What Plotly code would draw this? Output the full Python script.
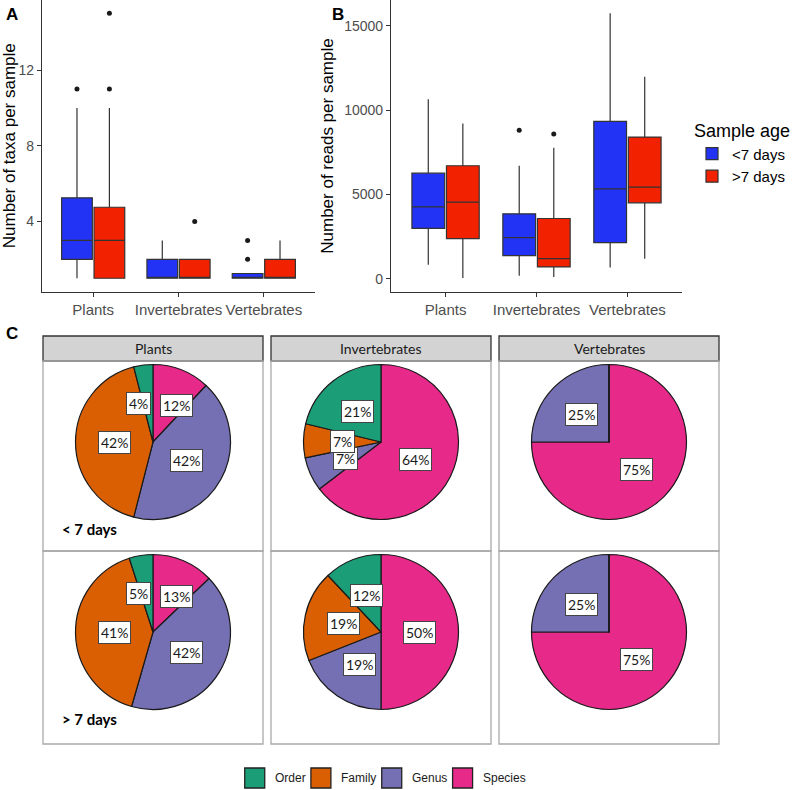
import math
import plotly.graph_objects as go

# ---------------- data ----------------
categories = ["Plants", "Invertebrates", "Vertebrates"]
age_groups = ["<7 days", ">7 days"]
age_colors = ["#2233f6", "#f22200"]

# Panel A: number of taxa per sample (box summary stats)
taxa_lt7_low = [1, 1, 1]
taxa_lt7_q1 = [2, 1, 1]
taxa_lt7_med = [3, 1, 1]
taxa_lt7_q3 = [5.25, 2, 1.25]
taxa_lt7_high = [10, 3, 1]
taxa_lt7_out = [[11], [], [2, 3]]
taxa_gt7_low = [1, 1, 1]
taxa_gt7_q1 = [1, 1, 1]
taxa_gt7_med = [3, 1, 1]
taxa_gt7_q3 = [4.75, 2, 2]
taxa_gt7_high = [10, 2, 3]
taxa_gt7_out = [[11, 15], [4], []]
taxa_ticks = [4, 8, 12]

# Panel B: number of reads per sample
reads_lt7_low = [830, 180, 670]
reads_lt7_q1 = [2990, 1370, 2140]
reads_lt7_med = [4260, 2440, 5330]
reads_lt7_q3 = [6260, 3850, 9330]
reads_lt7_high = [10640, 6700, 15740]
reads_lt7_out = [[], [8800], []]
reads_gt7_low = [40, 100, 1190]
reads_gt7_q1 = [2380, 700, 4500]
reads_gt7_med = [4540, 1190, 5430]
reads_gt7_q3 = [6700, 3570, 8400]
reads_gt7_high = [9200, 7770, 11970]
reads_gt7_out = [[], [8580], []]
reads_ticks = [0, 5000, 10000, 15000]

# Panel C: taxonomic rank percentages (order: Order, Family, Genus, Species)
ranks = ["Order", "Family", "Genus", "Species"]
rank_colors = ["#1B9E77", "#D95F02", "#7570B3", "#E7298A"]
pct_plants_lt7 = [4, 42, 42, 12]
pct_plants_gt7 = [5, 41, 42, 13]
pct_inv_lt7 = [21, 7, 7, 64]
pct_inv_gt7 = [12, 19, 19, 50]
pct_vert_lt7 = [0, 0, 25, 75]
pct_vert_gt7 = [0, 0, 25, 75]
row_labels = ["< 7 days", "> 7 days"]

# ---------------- layout constants ----------------
W, H = 798, 790
def px(x):
    return x / W
def py(y):
    return 1 - y / H

BOX_OFF = 0.19
BOX_W = 0.36
TICK_COL = "#4d4d4d"
LINE_COL = "#333333"
SANS = "Liberation Sans, Arial, sans-serif"
HUM = "Lato, Open Sans, sans-serif"

fig = go.Figure()

def add_boxes(xa, ya, stats, outs, showlegend):
    for g, (name, col) in enumerate(zip(age_groups, age_colors)):
        low, q1, med, q3, high = stats[g]
        off = -BOX_OFF if g == 0 else BOX_OFF
        xs = [i + 1 + off for i in range(len(categories))]
        fig.add_trace(go.Box(
            x=xs, lowerfence=low, q1=q1, median=med, q3=q3, upperfence=high,
            name=name, fillcolor=col, line=dict(color=LINE_COL, width=1.2),
            width=BOX_W, whiskerwidth=0, boxpoints=False,
            xaxis=xa, yaxis=ya, showlegend=showlegend, legendgroup=name,
            hoverinfo="skip"))
        ox, oy = [], []
        for i, vals in enumerate(outs[g]):
            for v in vals:
                ox.append(i + 1 + off)
                oy.append(v)
        fig.add_trace(go.Scatter(
            x=ox, y=oy, mode="markers", marker=dict(color="#1a1a1a", size=5),
            xaxis=xa, yaxis=ya, showlegend=False, hoverinfo="skip"))

add_boxes("x", "y",
          [(taxa_lt7_low, taxa_lt7_q1, taxa_lt7_med, taxa_lt7_q3, taxa_lt7_high),
           (taxa_gt7_low, taxa_gt7_q1, taxa_gt7_med, taxa_gt7_q3, taxa_gt7_high)],
          [taxa_lt7_out, taxa_gt7_out], True)
add_boxes("x2", "y2",
          [(reads_lt7_low, reads_lt7_q1, reads_lt7_med, reads_lt7_q3, reads_lt7_high),
           (reads_gt7_low, reads_gt7_q1, reads_gt7_med, reads_gt7_q3, reads_gt7_high)],
          [reads_lt7_out, reads_gt7_out], False)

def expand(lo, hi, f=0.05):
    d = (hi - lo) * f
    return [lo - d, hi + d]

taxa_all = taxa_lt7_low + taxa_gt7_low + taxa_lt7_high + taxa_gt7_high + \
    [v for o in taxa_lt7_out + taxa_gt7_out for v in o]
reads_all = reads_lt7_low + reads_gt7_low + reads_lt7_high + reads_gt7_high + \
    [v for o in reads_lt7_out + reads_gt7_out for v in o]

xcommon = dict(range=[0.4, len(categories) + 0.6], tickvals=list(range(1, len(categories) + 1)),
               ticktext=categories, showline=True, linecolor=LINE_COL, linewidth=1.2,
               ticks="outside", ticklen=4, tickcolor=LINE_COL, showgrid=False, zeroline=False,
               tickfont=dict(family=SANS, size=15, color=TICK_COL), fixedrange=True)
ycommon = dict(showline=True, linecolor=LINE_COL, linewidth=1.2, ticks="outside", ticklen=4,
               tickcolor=LINE_COL, showgrid=False, zeroline=False, tickformat="d",
               tickfont=dict(family=SANS, size=14, color=TICK_COL), fixedrange=True)

fig.update_layout(
    xaxis=dict(domain=[px(42), px(315)], anchor="y", **xcommon),
    yaxis=dict(domain=[py(291.5), 1], anchor="x", range=expand(min(taxa_all), max(taxa_all)),
               tickvals=taxa_ticks,
               title=dict(text="Number of taxa per sample", font=dict(family=SANS, size=17, color="black"),
                          standoff=6), **ycommon),
    xaxis2=dict(domain=[px(391), px(682)], anchor="y2", **xcommon),
    yaxis2=dict(domain=[py(292), 1], anchor="x2", range=expand(0, max(reads_all)),
                tickvals=reads_ticks,
                title=dict(text="Number of reads per sample", font=dict(family=SANS, size=17, color="black"),
                           standoff=6), **ycommon),
)

# ---------------- Panel C: facet grid of pies ----------------
col_left = [43, 271, 499]
col_w = 220
strip_top, strip_h = 336, 25
row_top = [361, 551]
row_h = [190, 193]
R = 77.5
LABEL_R = 0.5 * R

pie_data = [[pct_plants_lt7, pct_inv_lt7, pct_vert_lt7],
            [pct_plants_gt7, pct_inv_gt7, pct_vert_gt7]]

shapes = []
annotations = []

def note(x, y, text, font, **kw):
    d = dict(x=px(x), y=py(y), xref="paper", yref="paper", text=text, showarrow=False,
             xanchor="center", yanchor="middle", font=font)
    d.update(kw)
    annotations.append(d)

for c, cat in enumerate(categories):
    x0 = col_left[c]
    shapes.append(dict(type="rect", xref="paper", yref="paper",
                       x0=px(x0), x1=px(x0 + col_w), y0=py(strip_top + strip_h), y1=py(strip_top),
                       fillcolor="#d3d3d3", line=dict(color="#333333", width=1.3), layer="below"))
    note(x0 + col_w / 2, strip_top + strip_h / 2, cat, dict(family=HUM, size=14, color="#1a1a1a"))
    for r in range(2):
        shapes.append(dict(type="rect", xref="paper", yref="paper",
                           x0=px(x0), x1=px(x0 + col_w), y0=py(row_top[r] + row_h[r]), y1=py(row_top[r]),
                           fillcolor="rgba(0,0,0,0)", line=dict(color="#a9a9a9", width=1.3), layer="below"))

# slices are drawn clockwise from 12 o'clock: Species, Genus, Family, Order
draw_order = list(reversed(range(len(ranks))))

for r in range(2):
    note(col_left[0] + 17, row_top[r] + 168, "<b>%s</b>" % row_labels[r],
         dict(family=HUM, size=15, color="black"), xanchor="left")
    for c in range(len(categories)):
        vals = [pie_data[r][c][k] for k in draw_order]
        labs_names = [ranks[k] for k in draw_order]
        cols = [rank_colors[k] for k in draw_order]
        cx = col_left[c] + col_w / 2
        cy = row_top[r] + 81
        fig.add_trace(go.Pie(
            labels=labs_names, values=vals, sort=False, direction="clockwise", rotation=0,
            marker=dict(colors=cols, line=dict(color="#1a1a1a", width=1.2)),
            textinfo="none", hoverinfo="skip",
            domain=dict(x=[px(cx - R), px(cx + R)], y=[py(cy + R), py(cy - R)]),
            showlegend=False))
        # label positions at mid-angle of each slice
        total = sum(vals)
        labs = []
        cum = 0
        for v in vals:
            if v > 0:
                ang = 2 * math.pi * (cum + v / 2) / total
                labs.append([LABEL_R * math.sin(ang), -LABEL_R * math.cos(ang), "%d%%" % v])
            cum += v
        # simple horizontal repel of overlapping labels
        for _ in range(20):
            moved = False
            for i in range(len(labs)):
                for j in range(i + 1, len(labs)):
                    a, b = labs[i], labs[j]
                    wa, wb = 7 * len(a[2]) + 20, 7 * len(b[2]) + 20
                    need = (wa + wb) / 2 + 1
                    dxv = b[0] - a[0]
                    if abs(b[1] - a[1]) < 16 and abs(dxv) < need:
                        push = (need - abs(dxv)) / 2
                        sgn = 1 if dxv >= 0 else -1
                        a[0] -= sgn * push
                        b[0] += sgn * push
                        moved = True
            if not moved:
                break
        for lx, ly, t in labs:
            note(cx + lx, cy + ly, t, dict(family=HUM, size=14, color="#1a1a1a"),
                 bgcolor="white", bordercolor="#444444", borderwidth=1, borderpad=2)

# ---------------- bottom legend for taxonomic ranks ----------------
CW = {"O": .778, "r": .333, "d": .556, "e": .556, "F": .611, "a": .556, "m": .833, "i": .222,
      "l": .222, "y": .5, "G": .778, "n": .556, "u": .556, "s": .5, "S": .667, "p": .556, "c": .5}
LEG_FS = 12
KEY = 20
KEY_GAP = 8
ITEM_GAP = 7.5
def text_w(s):
    return sum(CW.get(ch, 0.556) for ch in s) * LEG_FS
widths = [KEY + KEY_GAP + text_w(s) for s in ranks]
total_w = sum(widths) + ITEM_GAP * (len(ranks) - 1)
leg_cx, leg_cy = 384, 778
xcur = leg_cx - total_w / 2
for name, col, w in zip(ranks, rank_colors, widths):
    shapes.append(dict(type="rect", xref="paper", yref="paper",
                       x0=px(xcur), x1=px(xcur + KEY), y0=py(leg_cy + KEY / 2), y1=py(leg_cy - KEY / 2),
                       fillcolor=col, line=dict(color="#222222", width=1.3)))
    note(xcur + KEY + KEY_GAP, leg_cy, name, dict(family=SANS, size=LEG_FS, color="#1a1a1a"),
         xanchor="left")
    xcur += w + ITEM_GAP

# panel letters
for letter, lx, ly in [("A", 4, 3), ("B", 330, 3), ("C", 4, 322)]:
    note(lx, ly, "<b>%s</b>" % letter, dict(family=SANS, size=17, color="black"),
         xanchor="left", yanchor="top")

fig.update_layout(
    width=W, height=H, autosize=False,
    margin=dict(l=0, r=0, t=0, b=0),
    paper_bgcolor="white", plot_bgcolor="white",
    font=dict(family=SANS, color="black"),
    boxmode="overlay",
    shapes=shapes, annotations=annotations,
    legend=dict(title=dict(text="Sample age", font=dict(family=SANS, size=18, color="black")),
                x=px(692), y=py(114), xanchor="left", yanchor="top",
                font=dict(family=SANS, size=15, color="black"), tracegroupgap=0,
                bgcolor="rgba(0,0,0,0)"),
)

fig.write_html("out.html", config={"displayModeBar": False},
               post_script="document.body.style.margin='0';")
